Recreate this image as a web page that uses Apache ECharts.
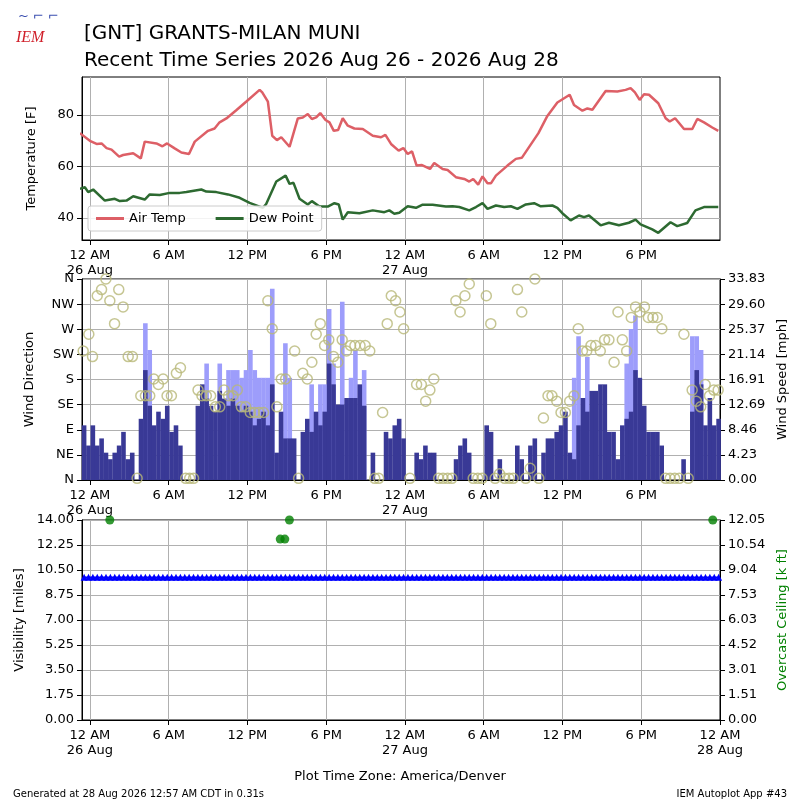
<!DOCTYPE html>
<html>
<head>
<meta charset="utf-8">
<script src="https://cdn.jsdelivr.net/npm/echarts@6/dist/echarts.min.js"></script>
<style>html,body{margin:0;padding:0;background:#fff}#chart{width:800px;height:800px}</style>
</head>
<body>
<div id="chart"></div>
<script>
// hours since 26 Aug 00:00 local
const tempHours = [-0.76,0,0.51,0.89,1.27,1.65,2.23,2.53,3.3,3.88,4.18,5.07,5.53,5.88,6.46,6.97,7.55,7.99,9,9.5,9.88,10.4,11.15,11.9,12.93,13.13,13.56,13.89,14.25,14.58,15.21,15.84,16.22,16.6,16.91,17.24,17.55,17.95,18.25,18.58,18.91,19.26,19.65,20.15,20.79,21.55,22.18,22.51,22.94,23.52,23.88,24.21,24.54,24.89,25.3,25.91,26.23,26.87,27.25,27.88,28.52,28.9,29.2,29.58,29.91,30.29,30.55,30.93,31.81,32.45,32.9,34.17,34.85,35.61,36.55,36.88,37.52,37.9,38.28,39.29,40.18,40.81,41.19,41.52,41.88,42.21,42.59,43.3,43.86,44.17,44.58,45.26,45.89,46.27,46.78,47.41,47.87];
const tempValues = [73,70,68.8,69,67.2,66.6,63.9,64.5,65.2,63.2,69.7,69,67.9,69,67.1,65.5,64.9,69.7,73.9,74.8,77.2,78.7,81.9,85.2,89.8,88.8,85.2,72,70.3,71.4,67.7,78.7,79.1,80.4,78.5,79.1,80.8,78.1,77.2,73.9,74.2,78.8,75.9,74.8,74.6,72,71.4,72.3,68.8,66.2,67.2,64.9,65.9,60.4,60.6,59.1,61.4,59.1,58.7,55.9,55.2,54.2,55.2,53,56.2,53.5,53.5,56.5,60.4,63,63.4,73,79.7,84.9,87.9,83.9,81.7,82.6,82.1,89.4,89.2,89.8,90.5,88.8,85.9,88.1,87.9,84.6,78.8,77.5,78.8,74.6,74.6,78.5,77.2,75.2,73.9];
const dewHours = [-0.76,-0.38,-0.13,0.25,1.14,1.9,2.28,2.79,3.3,4.18,4.56,5.32,6.08,6.84,7.35,8.49,8.87,9.63,10.52,11.41,12.17,13.18,13.43,14.2,14.91,15.21,15.51,15.97,16.6,16.91,17.49,18.12,18.63,18.96,19.26,19.65,20.53,21.55,22.43,22.81,23.19,23.57,24.21,24.84,25.35,26.11,27.12,27.63,28.14,28.9,29.41,29.91,30.29,30.93,31.56,32.07,32.57,33.21,33.84,34.35,35.23,35.61,35.99,36.62,37.26,37.64,38.02,38.91,39.54,40.3,41.06,41.57,41.95,42.84,43.3,44.23,44.74,45.5,46.13,46.78,47.87];
const dewValues = [51.4,52,50.1,51.1,46.8,47.5,46.6,46.8,48.5,47.2,49.2,49,49.8,49.8,50.1,51.1,50.3,50.1,49.2,47.9,45.9,44,45.5,54.2,56.5,53.3,53.7,47.5,45.3,46.6,44.5,44.5,45.8,45.3,39.4,42.3,41.9,43,42.3,43,41.7,42.1,44.6,44,45.2,45.2,44.5,44.6,44.3,43,44.3,45.8,43.6,44.9,44.3,44.6,43.6,45.3,45.8,44.6,44.9,44,41.9,39.1,41,40.4,41,37.2,38.2,37.2,38.2,39.4,37.6,35.6,34.3,38.4,36.9,38.1,43,44.3,44.3];

// 20-minute wind observations, first at -0.44 h
const windStart = -0.44;
const windSpeed = [9.2,5.8,9.2,5.8,7,4.6,3.5,4.6,5.8,8.1,3.5,4.6,0,10.3,18.5,12.5,9.2,11.5,10.3,12.5,
  8.1,9.2,5.8,0,0,0,12.5,16.1,13.7,12.5,11.5,15,13.7,12.5,13.7,12.5,11.5,12.5,11.5,9.2,
  10.3,11.5,9.2,16.1,4.6,11.5,7,7,7,0,8.1,10.3,8.1,11.5,9.2,11.5,19.6,16.1,12.7,12.7,
  13.8,13.8,13.8,16.1,12.5,0,4.6,0,0,8.1,7,9.2,10.3,
  7,0,0,4.6,3.5,5.8,4.6,4.6,0,0,0,0,3.5,5.8,7,4.6,0,0,0,9.2,8.1,0,3.5,0,0,0,
  5.8,3.5,0,5.8,7,0,4.6,7,7,8.1,9.2,11.5,4.6,3.5,9.2,13.8,11.5,15,15,16.1,16.1,8.1,8.1,3.5,
  9.2,10.3,11.5,18.5,17.2,12.5,8.1,8.1,8.1,5.8,0,0,0,0,3.5,0,11.5,18.5,16.1,9.2,13.8,9.2,10.3];
const windGust = [null,null,null,null,null,null,null,null,null,null,null,null,null,null,26.4,21.9,null,null,null,null,
  null,null,null,null,null,null,null,null,19.6,null,null,19.6,null,18.5,18.5,18.5,17.2,18.5,21.9,18.5,
  17.2,17.2,17.2,32.2,null,null,23,17.2,null,null,null,null,16.1,null,16.1,16.1,28.8,19.6,null,30,
  null,17.2,21.9,null,18.5,null,null,null,null,null,null,null,null,
  null,null,null,null,null,null,null,null,null,null,null,null,null,null,null,null,null,null,null,null,null,null,null,null,null,null,
  null,null,null,null,null,null,null,null,null,null,null,null,null,17.2,24.2,null,20.7,null,null,null,null,null,null,null,
  null,19.6,25.4,27.7,null,null,null,null,null,null,null,null,null,null,null,null,24.2,24.2,21.9,null,null,null];
const dirHours = [-0.51,-0.08,0.2,0.56,0.89,1.22,1.52,1.88,2.2,2.53,2.92,3.24,3.6,3.88,4.23,4.56,4.87,5.22,5.58,5.88,6.21,6.59,6.9,7.3,7.6,7.9,8.24,8.54,8.87,9.2,9.56,9.89,10.22,10.57,10.9,11.23,11.54,11.87,12.22,12.55,12.88,13.23,13.56,13.89,14.25,14.58,14.91,15.6,15.9,16.22,16.56,16.91,17.24,17.55,17.88,18.2,18.56,18.89,19.22,19.55,19.86,20.19,20.58,20.97,21.32,21.7,22,22.3,22.65,22.96,23.29,23.62,23.9,24.38,24.89,25.25,25.58,25.9,26.2,26.57,26.9,27.25,27.58,27.88,28.2,28.57,28.9,29.2,29.55,29.88,30.2,30.54,30.87,31.2,31.6,31.94,32.25,32.57,32.9,33.2,33.54,33.9,34.2,34.55,34.9,35.2,35.57,35.89,36.22,36.55,36.88,37.2,37.52,37.85,38.17,38.53,38.88,39.21,39.54,39.93,40.23,40.56,40.89,41.24,41.57,41.9,42.24,42.54,42.89,43.22,43.57,43.86,44.2,44.55,44.9,45.25,45.58,45.88,46.2,46.53,46.87,47.2,47.53,47.86];
const dirValues = [231,261,221,330,341,360,321,280,341,310,221,221,3,151,151,151,181,171,181,151,151,191,201,3,3,3,161,151,151,151,131,131,161,151,151,161,131,131,121,121,121,121,321,271,131,181,181,231,3,191,181,211,261,280,241,251,221,211,251,231,241,241,241,241,231,3,3,121,280,330,321,301,271,3,171,171,141,161,181,3,3,3,3,321,301,330,351,3,3,3,330,280,3,11,3,3,3,341,301,3,21,360,3,111,151,151,141,121,121,141,151,271,231,231,241,241,231,251,251,211,301,251,231,291,310,301,310,291,291,291,271,3,3,3,3,261,3,161,141,131,171,151,161,161];
const visValue = 10;
const ceilHours = [1.52, 14.5, 14.85, 15.2, 47.45];
const ceilValues = [12.05, 10.9, 10.9, 12.05, 12.05];
const tickHours = [0, 6, 12, 18, 24, 30, 36, 42, 48];
const dirLabels = ['N', 'NE', 'E', 'SE', 'S', 'SW', 'W', 'NW', 'N'];

const windHours = windSpeed.map((_, i) => windStart + i / 3);
const font = 'DejaVu Sans';

function hourLabel(v) {
  const h = ((v % 24) + 24) % 24;
  const names = { 0: '12 AM', 6: '6 AM', 12: '12 PM', 18: '6 PM' };
  let s = names[h];
  if (h === 0) s += '\n' + (26 + v / 24) + ' Aug';
  return s;
}

function xAxis(gi, ticks) {
  return {
    type: 'value', gridIndex: gi, min: -0.6, max: 48,
    axisLine: { show: true, onZero: false, lineStyle: { color: '#000' } },
    axisTick: { show: true, customValues: ticks, length: 5, lineStyle: { color: '#000' } },
    axisLabel: { customValues: ticks, formatter: hourLabel, color: '#000', fontFamily: font, fontSize: 13, lineHeight: 15 },
    splitLine: { show: true, lineStyle: { color: '#b0b0b0' } }
  };
}
function yAxis(gi, opt) {
  return Object.assign({
    type: 'value', gridIndex: gi,
    nameLocation: 'middle', nameTextStyle: { fontFamily: font, fontSize: 13, color: '#000' },
    axisLine: { show: true, onZero: false, lineStyle: { color: '#000' } },
    axisTick: { show: true, length: 5, lineStyle: { color: '#000' } },
    axisLabel: { color: '#000', fontFamily: font, fontSize: 13 },
    splitLine: { show: true, lineStyle: { color: '#b0b0b0' } }
  }, opt);
}

const tempTicks = [40, 60, 80];
const chart = echarts.init(document.getElementById('chart'));
chart.setOption({
  animation: false,
  backgroundColor: '#fff',
  title: [
    { text: '[GNT] GRANTS-MILAN MUNI\nRecent Time Series 2026 Aug 26 - 2026 Aug 28', left: 79, top: 15,
      textStyle: { fontFamily: font, fontSize: 20, fontWeight: 'normal', color: '#000', lineHeight: 27 } },
    { text: 'Plot Time Zone: America/Denver', left: 'center', top: 765,
      textStyle: { fontFamily: font, fontSize: 13, fontWeight: 'normal', color: '#000' } },
    { text: 'Generated at 28 Aug 2026 12:57 AM CDT in 0.31s', left: 8, top: 784,
      textStyle: { fontFamily: font, fontSize: 10, fontWeight: 'normal', color: '#000' } },
    { text: 'IEM Autoplot App #43', right: 8, top: 784,
      textStyle: { fontFamily: font, fontSize: 10, fontWeight: 'normal', color: '#000' } }
  ],
  graphic: [
    { type: 'text', left: 16, top: 30, style: { text: 'IEM', fill: '#d0202a', font: 'italic 16px "Liberation Serif"' } },
    { type: 'text', left: 18, top: 10, style: { text: '~ ⌐ ⌐', fill: '#3b4fb0', font: '13px "DejaVu Sans"' } }
  ],
  legend: {
    data: ['Air Temp', 'Dew Point'], left: 88, top: 206, orient: 'horizontal', itemGap: 30,
    icon: 'rect', itemWidth: 28, itemHeight: 3,
    backgroundColor: 'rgba(255,255,255,0.85)', borderColor: '#ccc', borderWidth: 1, borderRadius: 3, padding: [6, 8],
    textStyle: { fontFamily: font, fontSize: 13, color: '#000' }
  },
  grid: [
    { left: 82, right: 80, top: 77, height: 163, show: true, borderColor: '#000', borderWidth: 1 },
    { left: 82, right: 80, top: 279, height: 201, show: true, borderColor: '#000', borderWidth: 1 },
    { left: 82, right: 80, top: 520, height: 200, show: true, borderColor: '#000', borderWidth: 1 }
  ],
  xAxis: [xAxis(0, tickHours.slice(0, 8)), xAxis(1, tickHours.slice(0, 8)), xAxis(2, tickHours)],
  yAxis: [
    yAxis(0, { min: 31.5, max: 94.8, name: 'Temperature [F]', nameGap: 44,
      axisTick: { show: true, customValues: tempTicks, length: 5, lineStyle: { color: '#000' } },
      axisLabel: { customValues: tempTicks, color: '#000', fontFamily: font, fontSize: 13 } }),
    yAxis(1, { min: 0, max: 360, interval: 45, name: 'Wind Direction', nameGap: 46,
      axisLabel: { color: '#000', fontFamily: font, fontSize: 13, formatter: v => dirLabels[Math.round(v / 45)] } }),
    yAxis(1, { min: 0, max: 33.83, interval: 33.83 / 8, position: 'right', name: 'Wind Speed [mph]', nameGap: 50,
      splitLine: { show: false },
      axisLabel: { color: '#000', fontFamily: font, fontSize: 13, formatter: v => v.toFixed(2) } }),
    yAxis(2, { min: 0, max: 14, interval: 1.75, name: 'Visibility [miles]', nameGap: 52,
      axisLabel: { color: '#000', fontFamily: font, fontSize: 13, formatter: v => v.toFixed(2) } }),
    yAxis(2, { min: 0, max: 12.05, interval: 12.05 / 8, position: 'right', name: 'Overcast Ceiling [k ft]', nameGap: 50,
      splitLine: { show: false },
      nameTextStyle: { fontFamily: font, fontSize: 13, color: 'green' },
      axisLabel: { color: '#000', fontFamily: font, fontSize: 13, formatter: v => v.toFixed(2) } })
  ],
  series: [
    { name: 'Air Temp', type: 'line', xAxisIndex: 0, yAxisIndex: 0, showSymbol: false,
      lineStyle: { color: '#dd5f66', width: 2.5 }, itemStyle: { color: '#dd5f66' },
      data: tempHours.map((h, i) => [h, tempValues[i]]) },
    { name: 'Dew Point', type: 'line', xAxisIndex: 0, yAxisIndex: 0, showSymbol: false,
      lineStyle: { color: '#2d6a31', width: 2.5 }, itemStyle: { color: '#2d6a31' },
      data: dewHours.map((h, i) => [h, dewValues[i]]) },
    { name: 'Gust', type: 'bar', xAxisIndex: 1, yAxisIndex: 2, barWidth: 4.6, barGap: '-100%',
      itemStyle: { color: '#9d9dfb' }, data: windHours.map((h, i) => [h, windGust[i]]) },
    { name: 'Speed', type: 'bar', xAxisIndex: 1, yAxisIndex: 2, barWidth: 4.6, barGap: '-100%',
      itemStyle: { color: '#393996' }, data: windHours.map((h, i) => [h, windSpeed[i]]) },
    { name: 'Direction', type: 'scatter', xAxisIndex: 1, yAxisIndex: 1, symbol: 'circle', symbolSize: 10,
      itemStyle: { color: 'rgba(0,0,0,0)', borderColor: '#b8b878', borderWidth: 1.5 },
      data: dirHours.map((h, i) => [h, dirValues[i]]) },
    { name: 'Visibility', type: 'line', xAxisIndex: 2, yAxisIndex: 3, symbol: 'triangle', symbolSize: 7,
      lineStyle: { color: '#0000ff', width: 1.5 }, itemStyle: { color: '#0000ff' },
      data: windHours.map(h => [h, visValue]) },
    { name: 'Ceiling', type: 'scatter', xAxisIndex: 2, yAxisIndex: 4, symbolSize: 9, clip: false,
      itemStyle: { color: '#008000' }, data: ceilHours.map((h, i) => [h, ceilValues[i]]) }
  ]
});
</script>
</body>
</html>
